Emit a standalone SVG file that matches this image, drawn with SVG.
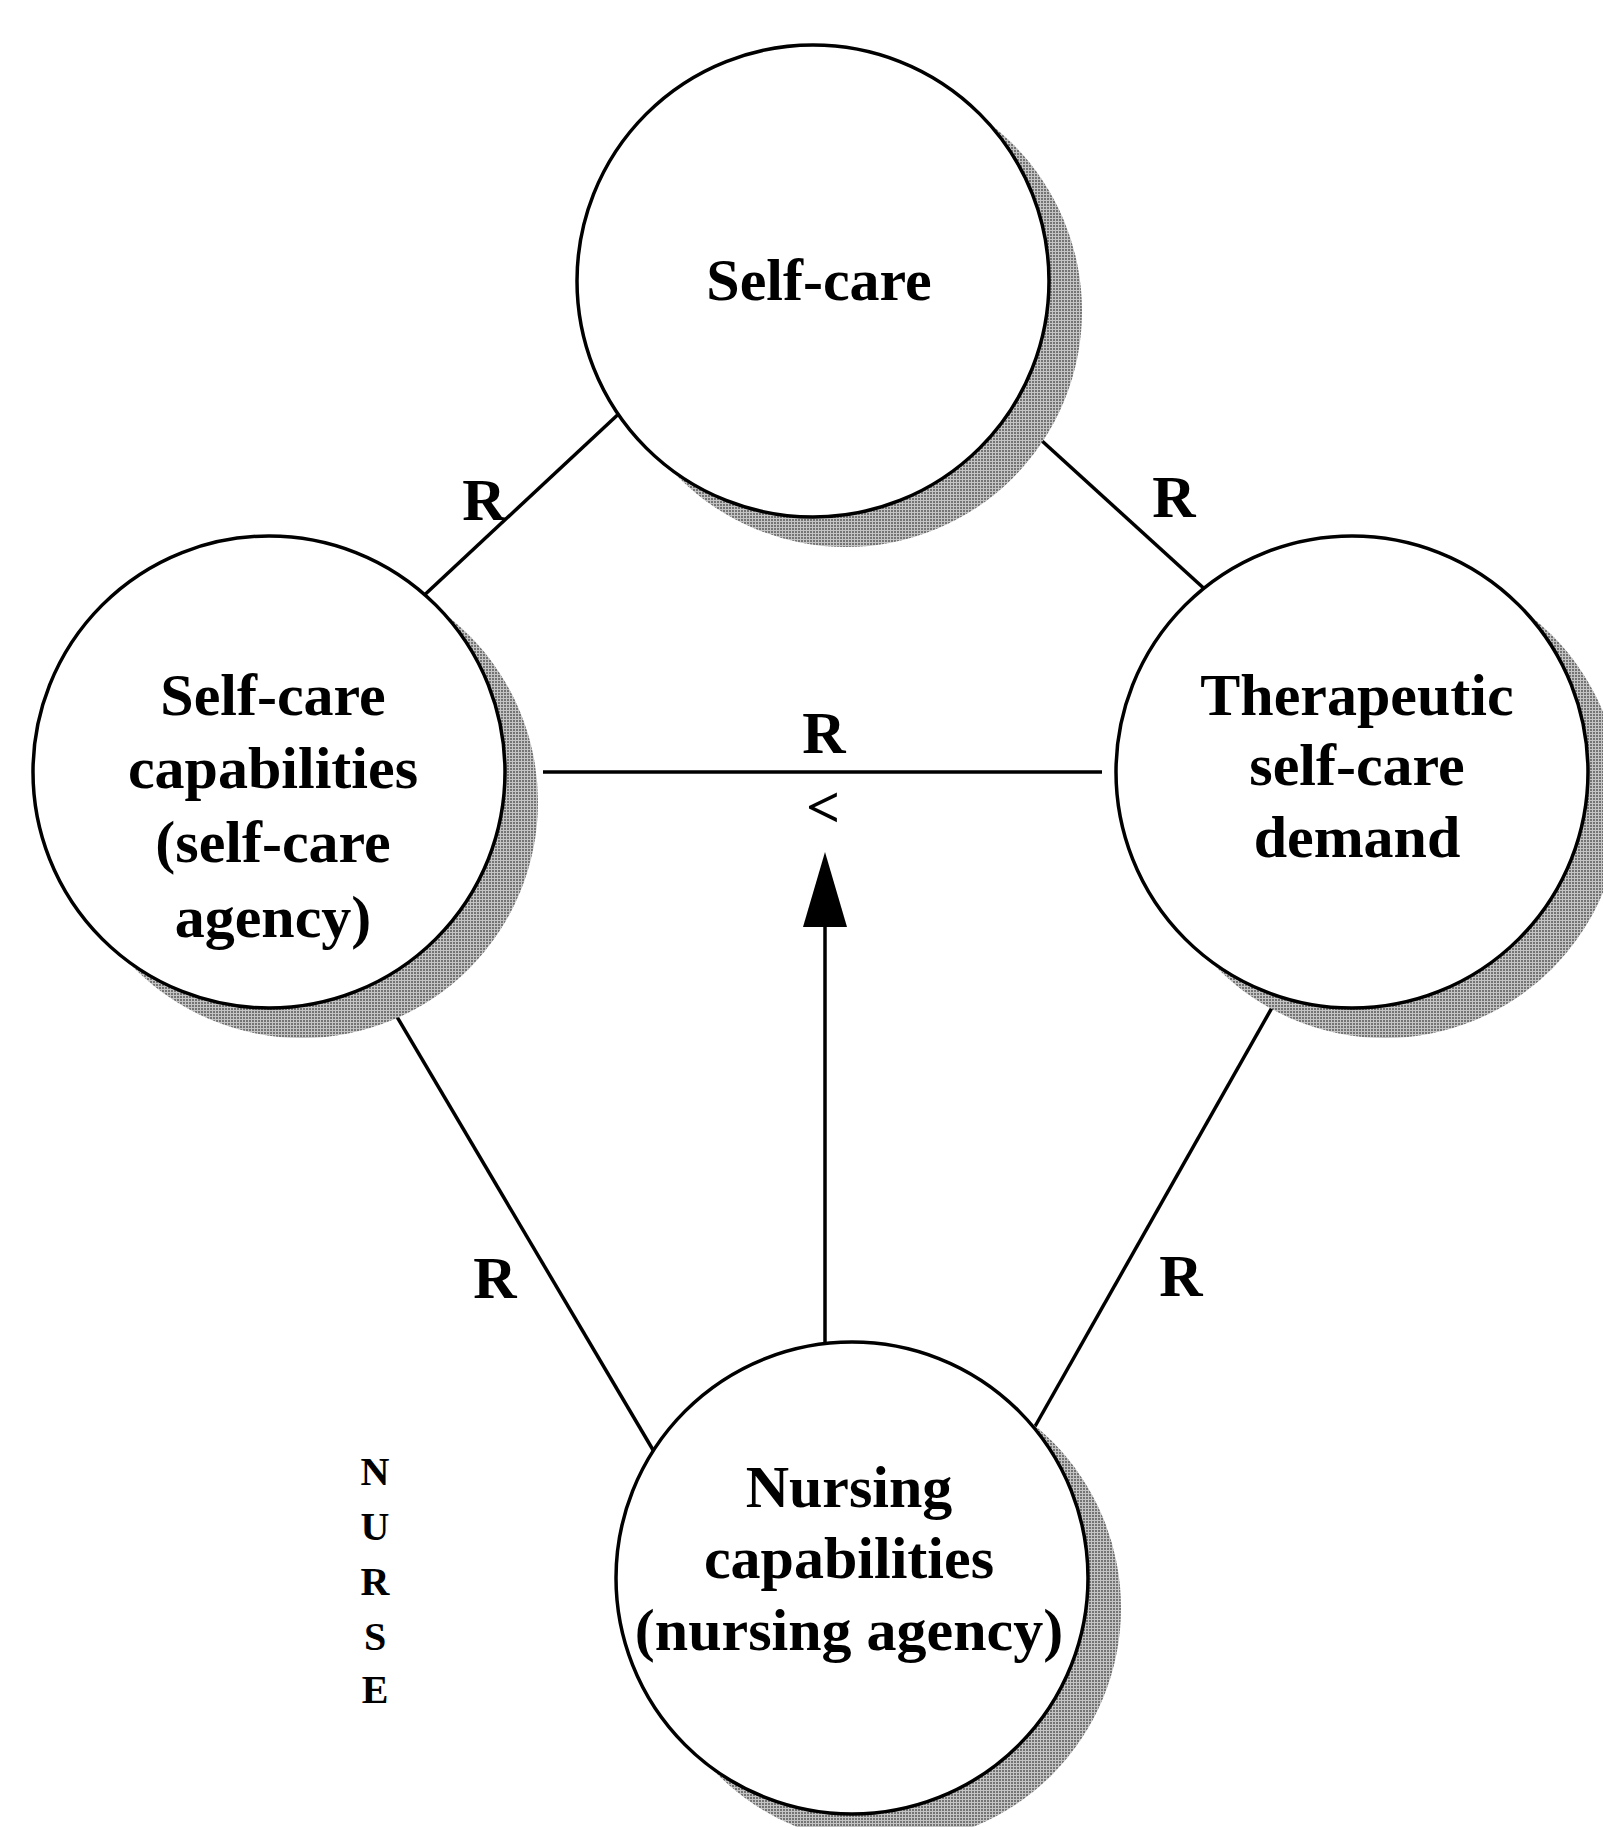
<svg xmlns="http://www.w3.org/2000/svg" width="1603" height="1827" viewBox="0 0 1603 1827">
  <defs>
    <pattern id="halftone" width="3" height="3" patternUnits="userSpaceOnUse">
      <rect width="3" height="3" fill="#c4c4c4"/>
      <rect width="2" height="2" fill="#747474"/>
    </pattern>
    <style>
      .node { fill: #ffffff; stroke: #000000; stroke-width: 3.5; }
      .shadow { fill: url(#halftone); stroke: none; }
      .lbl { font-family: "Liberation Serif", "Times New Roman", serif; font-weight: bold; font-size: 60px; text-anchor: middle; fill: #000000; }
      .rel { font-family: "Liberation Serif", "Times New Roman", serif; font-weight: bold; font-size: 60px; text-anchor: middle; fill: #000000; }
      .side { font-family: "Liberation Serif", "Times New Roman", serif; font-weight: bold; font-size: 40px; text-anchor: middle; fill: #000000; }
      .conn { stroke: #000000; stroke-width: 3.5; fill: none; }
    </style>
  </defs>
  <rect width="1603" height="1827" fill="#ffffff"/>

  <g id="connectors">
    <line class="conn" x1="625" y1="408" x2="418" y2="601"/>
    <line class="conn" x1="1030" y1="430" x2="1209" y2="593"/>
    <line class="conn" x1="390" y1="1005" x2="656" y2="1455"/>
    <line class="conn" x1="1282" y1="990" x2="1029" y2="1437"/>
    <line class="conn" x1="543" y1="772" x2="1102" y2="772"/>
    <line class="conn" x1="825" y1="925" x2="825" y2="1345"/>
    <polygon points="825,852 847,927 803,927" fill="#000000"/>
    <text class="rel" x="484" y="520">R</text>
    <text class="rel" x="1174" y="517">R</text>
    <text class="rel" x="824" y="753">R</text>
    <text class="rel" x="823" y="827">&lt;</text>
    <text class="rel" x="495" y="1298">R</text>
    <text class="rel" x="1181" y="1296">R</text>
  </g>

  <g id="node-self-care">
    <circle class="shadow" cx="846" cy="311" r="236"/>
    <circle class="node" cx="813" cy="281" r="236"/>
    <text class="lbl" x="819" y="300">Self-care</text>
  </g>

  <g id="node-self-care-capabilities">
    <circle class="shadow" cx="302" cy="802" r="236"/>
    <circle class="node" cx="269" cy="772" r="236"/>
    <text class="lbl" x="273" y="715">Self-care</text>
    <text class="lbl" x="273" y="788">capabilities</text>
    <text class="lbl" x="273" y="862">(self-care</text>
    <text class="lbl" x="273" y="937">agency)</text>
  </g>

  <g id="node-therapeutic-demand">
    <circle class="shadow" cx="1385" cy="802" r="236"/>
    <circle class="node" cx="1352" cy="772" r="236"/>
    <text class="lbl" x="1357" y="715">Therapeutic</text>
    <text class="lbl" x="1357" y="785">self-care</text>
    <text class="lbl" x="1357" y="857">demand</text>
  </g>

  <g id="node-nursing-capabilities">
    <circle class="shadow" cx="885" cy="1608" r="236"/>
    <circle class="node" cx="852" cy="1578" r="236"/>
    <text class="lbl" x="849" y="1507">Nursing</text>
    <text class="lbl" x="849" y="1578">capabilities</text>
    <text class="lbl" x="849" y="1650">(nursing agency)</text>
  </g>

  <g id="nurse-label">
    <text class="side" x="375" y="1485">N</text>
    <text class="side" x="375" y="1540">U</text>
    <text class="side" x="375" y="1595">R</text>
    <text class="side" x="375" y="1650">S</text>
    <text class="side" x="375" y="1703">E</text>
  </g>
</svg>
